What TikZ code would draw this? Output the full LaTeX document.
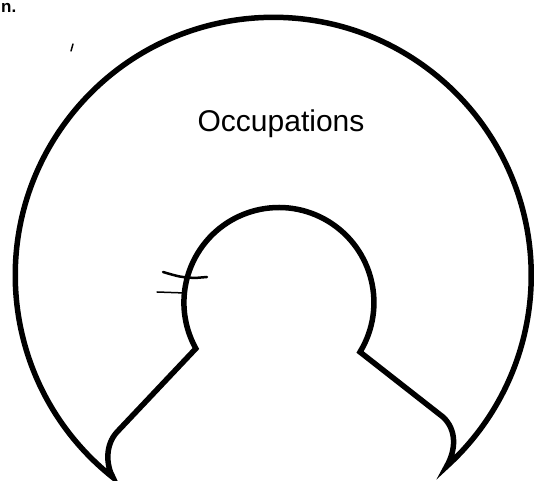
\documentclass[tikz,border=0pt]{standalone}
\usepackage{fontspec}
\setmainfont{Liberation Sans}
\begin{document}
\begin{tikzpicture}[x=1pt,y=1pt,
  outline/.style={line width=5.5pt,line join=miter,draw=black},
  scratch/.style={draw=black,line cap=round},
  lbl/.style={font=\fontsize{30}{31}\selectfont,inner sep=0pt,anchor=base}]
\useasboundingbox (0,0) rectangle (535,481);
% outer ring with the opening
\draw[outline] (113,3.5)
  arc[start angle=231.6,end angle=-47.8,radius=258]
  .. controls (456,31) and (457,51) .. (443,64)
  -- (360,129)
  arc[start angle=-31.4,end angle=209,radius=95]
  -- (117,49)
  .. controls (105,36) and (106,16) .. (113,3.5) -- cycle;
\node[lbl] (occ) at (281,349) {Occupations};
\node[font=\bfseries\fontsize{17}{17}\selectfont,inner sep=0pt,anchor=base west] (frag) at (1,468.5) {n.};
% stray marks
\draw[scratch,line width=2.5pt] (163,209) .. controls (180,204) .. (195,203) -- (207,204);
\draw[scratch,line width=1.5pt] (157,189) -- (185,188);
\draw[scratch,line width=1.5pt] (71,430) -- (73,437);
\end{tikzpicture}
\end{document}
